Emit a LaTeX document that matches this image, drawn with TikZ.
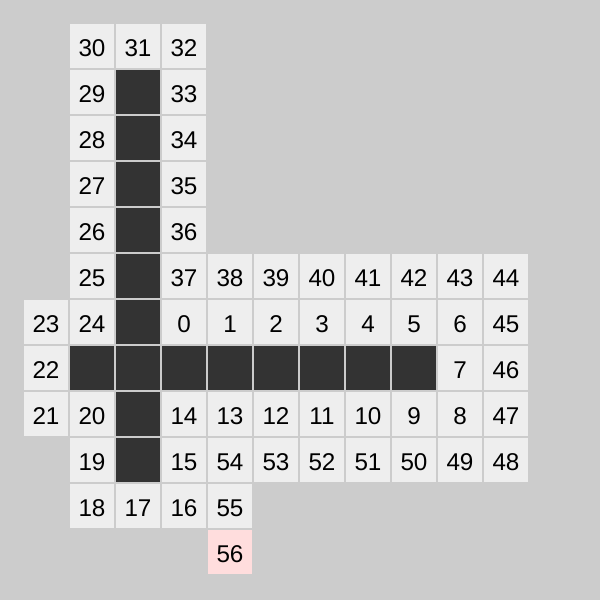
\documentclass[tikz,border=0pt]{standalone}
\usepackage{fontspec}
\setmainfont{Liberation Sans}
\definecolor{bggrey}{HTML}{CCCCCC}
\definecolor{cellgrey}{HTML}{EEEEEE}
\definecolor{wallgrey}{HTML}{333333}
\definecolor{goalpink}{HTML}{FFDDDD}
\begin{document}
\begin{tikzpicture}[
		cell/.style={minimum size=0.9565cm, inner sep=0pt, fill=cellgrey, text height=12.6pt,
				font=\fontsize{15}{18}\selectfont},
		wall/.style={minimum size=0.9565cm, inner sep=0pt, fill=wallgrey},
		goal/.style={cell, fill=goalpink}]
		% background
		\fill[bggrey] (0,0) rectangle (13.0435,-13.0435);
		% numbered cells
		\foreach \c/\r/\t in {1/0/30, 2/0/31, 3/0/32, 1/1/29, 3/1/33, 1/2/28, 3/2/34,
				1/3/27, 3/3/35, 1/4/26, 3/4/36,
				1/5/25, 3/5/37, 4/5/38, 5/5/39, 6/5/40, 7/5/41, 8/5/42, 9/5/43, 10/5/44,
				0/6/23, 1/6/24, 3/6/0, 4/6/1, 5/6/2, 6/6/3, 7/6/4, 8/6/5, 9/6/6, 10/6/45,
				0/7/22, 9/7/7, 10/7/46,
				0/8/21, 1/8/20, 3/8/14, 4/8/13, 5/8/12, 6/8/11, 7/8/10, 8/8/9, 9/8/8, 10/8/47,
				1/9/19, 3/9/15, 4/9/54, 5/9/53, 6/9/52, 7/9/51, 8/9/50, 9/9/49, 10/9/48,
				1/10/18, 2/10/17, 3/10/16, 4/10/55}
			\node[cell] (n\t) at ({\c+1},{-\r-1}) {\t};
		% walls
		\foreach \c/\r in {2/1, 2/2, 2/3, 2/4, 2/5, 2/6, 2/7, 2/8, 2/9,
				1/7, 3/7, 4/7, 5/7, 6/7, 7/7, 8/7}
			\node[wall] (w\c-\r) at ({\c+1},{-\r-1}) {};
		% goal
		\node[goal] (n56) at (5,-12) {56};
	\end{tikzpicture}
\end{document}
